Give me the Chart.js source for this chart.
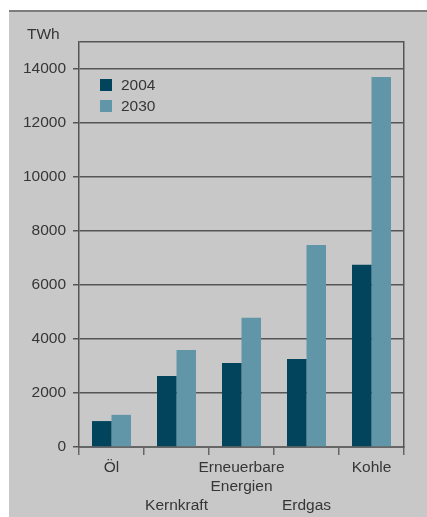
<!DOCTYPE html>
<html>
<head>
<meta charset="utf-8">
<script src="https://cdn.jsdelivr.net/npm/chart.js@4/dist/chart.umd.min.js"></script>
<style>
  body { margin: 0; background: #fff; width: 427px; height: 517px; overflow: hidden; }
  #box {
    position: absolute; left: 9px; top: 10px; width: 418px; height: 505px;
    background: #c8c8c8; border-top: 2px solid #7c7c7c;
  }
  canvas { display: block; }
</style>
</head>
<body>
<div id="box"><canvas id="chart" width="418" height="505"></canvas></div>
<script>
// Energy sources (labels staggered over lines like the original)
const categories = [
    ['Öl'],
    ['', '', 'Kernkraft'],
    ['Erneuerbare', 'Energien'],
    ['', '', 'Erdgas'],
    ['Kohle']
];
const years = ['2004', '2030'];
const values2004 = [960, 2630, 3110, 3260, 6750];
const values2030 = [1190, 3590, 4790, 7480, 13700];
const yTicks = [0, 2000, 4000, 6000, 8000, 10000, 12000, 14000];
const yMax = 15000;
const unitLabel = 'TWh';

const textColor = '#363636';
const lineColor = '#555555';
const fontFamily = '"Liberation Sans", Arial, sans-serif';
const fontSize = 15.5;

// Unit label top left + legend inside the plot
const extrasPlugin = {
    id: 'extras',
    afterDraw(chart) {
        const ctx = chart.ctx;
        const area = chart.chartArea;
        ctx.save();
        ctx.font = fontSize + 'px ' + fontFamily;
        ctx.fillStyle = textColor;
        ctx.textBaseline = 'middle';
        ctx.textAlign = 'left';
        ctx.fillText(unitLabel, 18, 23);

        chart.data.datasets.forEach((ds, i) => {
            const x = area.left + 21;
            const y = area.top + 37 + i * 21;
            ctx.fillStyle = ds.backgroundColor;
            ctx.fillRect(x, y, 12, 12);
            ctx.fillStyle = textColor;
            ctx.fillText(ds.label, x + 21, y + 6.5);
        });
        ctx.restore();
    }
};

const ctx = document.getElementById('chart').getContext('2d');
const chart = new Chart(ctx, {
    type: 'bar',
    data: {
        labels: categories,
        datasets: [
            {
                label: years[0],
                data: values2004,
                backgroundColor: '#01445c',
                categoryPercentage: 0.6,
                barPercentage: 1.0
            },
            {
                label: years[1],
                data: values2030,
                backgroundColor: '#6096a8',
                categoryPercentage: 0.6,
                barPercentage: 1.0
            }
        ]
    },
    options: {
        responsive: false,
        animation: false,
        layout: { padding: { top: 30, right: 0, left: 0, bottom: 0 } },
        plugins: {
            legend: { display: false },
            tooltip: { enabled: false }
        },
        scales: {
            x: {
                offset: true,
                grid: {
                    offset: true,
                    drawOnChartArea: false,
                    drawTicks: true,
                    tickLength: 8,
                    color: '#666666',
                    lineWidth: 1.5
                },
                border: { color: '#666666', width: 2 },
                ticks: {
                    autoSkip: false,
                    maxRotation: 0,
                    padding: 3,
                    color: textColor,
                    font: { size: fontSize, family: fontFamily, lineHeight: 19 / fontSize }
                },
                afterFit(scale) { scale.height = 70; }
            },
            y: {
                min: 0,
                max: yMax,
                afterBuildTicks(scale) {
                    scale.ticks = yTicks.concat([yMax]).map(v => ({ value: v }));
                },
                grid: {
                    color: lineColor,
                    lineWidth: 1.5,
                    tickLength: 6,
                    tickColor: c => (c.tick && c.tick.value === yMax) ? 'rgba(0,0,0,0)' : lineColor
                },
                border: { color: lineColor, width: 1.5 },
                ticks: {
                    padding: 7,
                    color: textColor,
                    font: { size: fontSize, family: fontFamily },
                    callback: v => v === yMax ? '' : v
                },
                afterFit(scale) { scale.width = 70; }
            },
            yRight: {
                position: 'right',
                grid: { drawOnChartArea: false, drawTicks: false },
                border: { color: lineColor, width: 1.5 },
                ticks: { display: false },
                afterFit(scale) { scale.width = 23; }
            }
        }
    },
    plugins: [extrasPlugin]
});
</script>
</body>
</html>
